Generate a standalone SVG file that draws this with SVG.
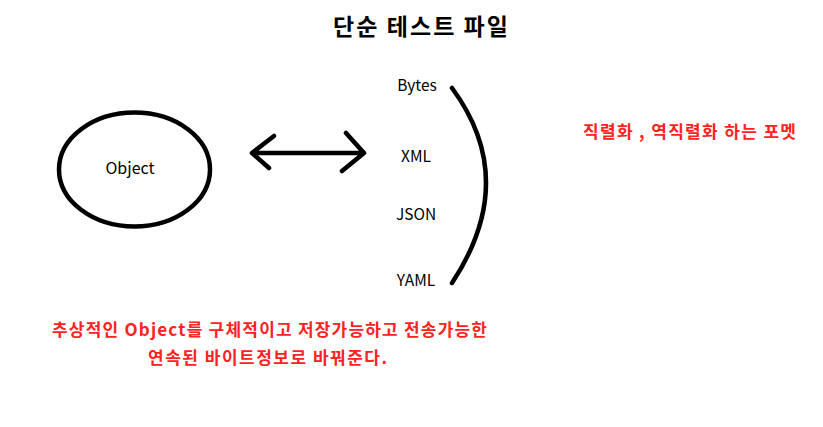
<svg xmlns="http://www.w3.org/2000/svg" width="823" height="427" viewBox="0 0 823 427">
<style>
text{font-family:"Noto Sans CJK KR","Noto Sans","Liberation Sans",sans-serif}
.lbl{font-size:15.5px;fill:#000;text-anchor:middle}
.red{font-size:17px;font-weight:bold;fill:#ff2222;text-anchor:middle}
.stk{fill:none;stroke:#000;stroke-width:4.5;stroke-linecap:round;stroke-linejoin:round}
</style>
<rect width="823" height="427" fill="#fff"/>
<text x="420.5" y="35" font-size="23" font-weight="bold" text-anchor="middle" fill="#000" textLength="175" lengthAdjust="spacing">단순 테스트 파일</text>
<g id="object">
<ellipse cx="134.5" cy="169.5" rx="75.5" ry="57" class="stk"/>
<text x="130" y="174" class="lbl" style="font-size:16px">Object</text>
</g>
<g id="formats">
<text x="417" y="91" class="lbl">Bytes</text>
<text x="416" y="162" class="lbl">XML</text>
<text x="416" y="220" class="lbl">JSON</text>
<text x="416" y="286" class="lbl">YAML</text>
</g>
<g id="connectors">
<path d="M252,153 H364 M274,136 L252,153 L269,168 M346,133 L364,153 L342,171" class="stk"/>
<path d="M452,88 Q520,180 452,283" class="stk"/>
</g>
<g id="notes">
<text x="689.5" y="138" class="red" textLength="213" lengthAdjust="spacing">직렬화 , 역직렬화 하는 포멧</text>
<text x="269.5" y="336" class="red" textLength="435" lengthAdjust="spacing">추상적인 Object를 구체적이고 저장가능하고 전송가능한</text>
<text x="267.5" y="364" class="red" textLength="239" lengthAdjust="spacing">연속된 바이트정보로 바꿔준다.</text>
</g>
</svg>
